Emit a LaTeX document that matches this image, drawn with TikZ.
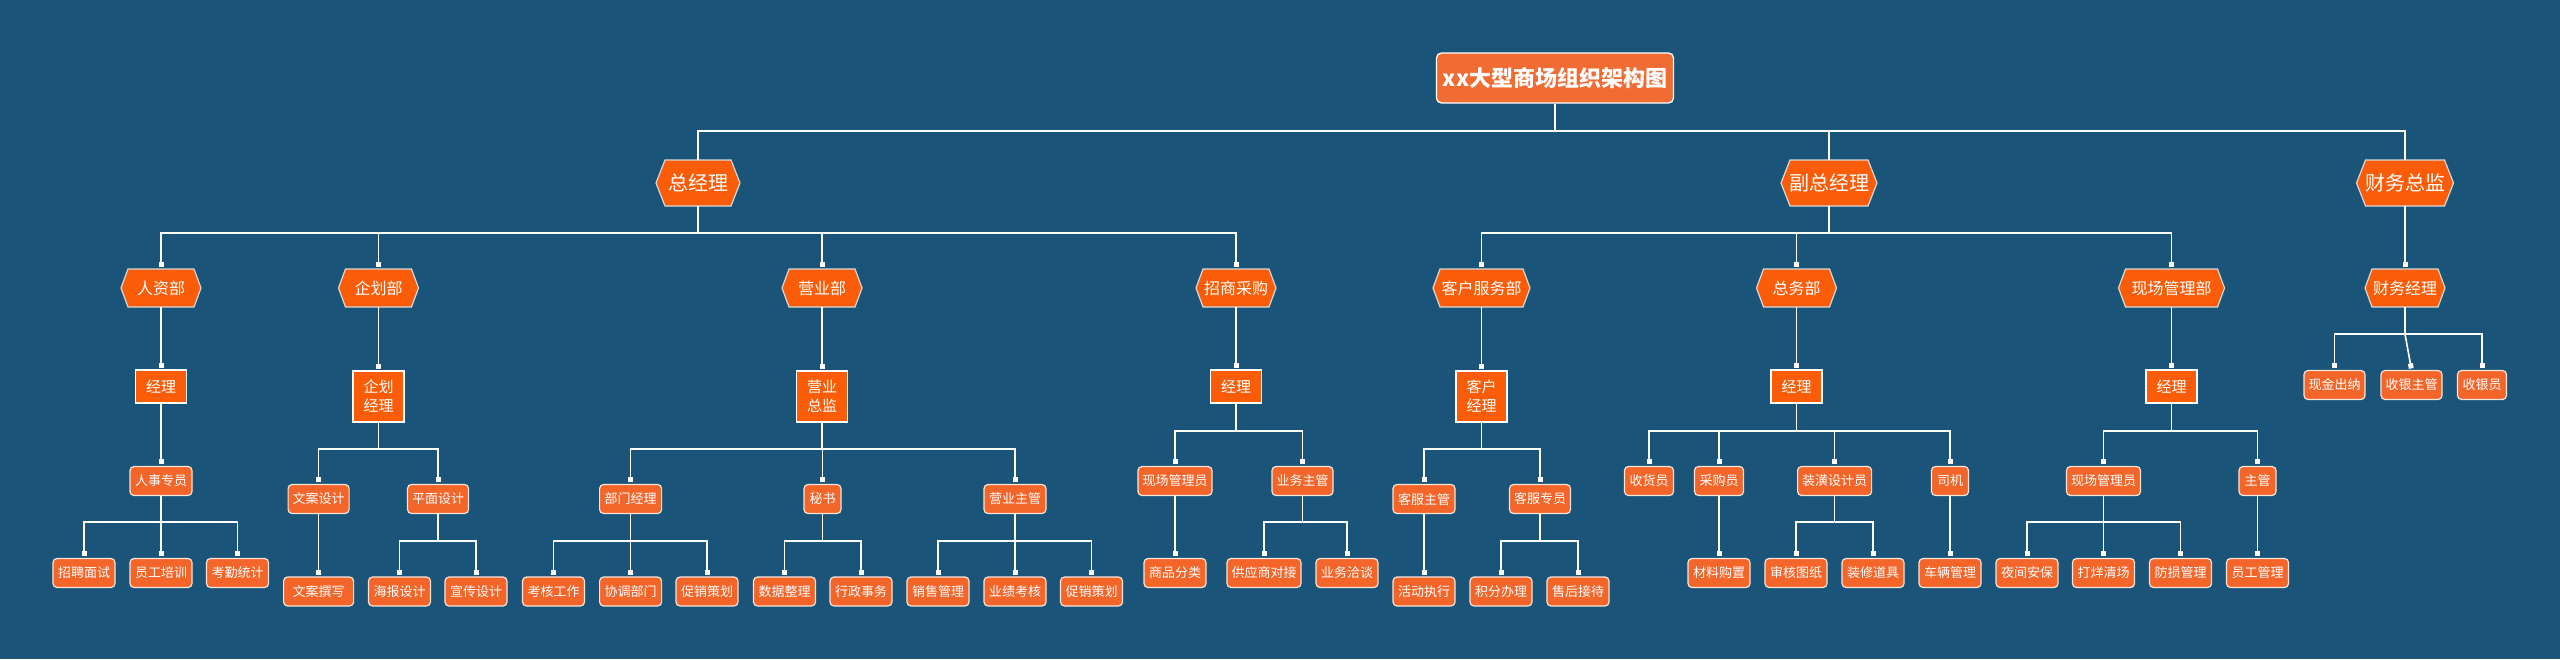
\documentclass[tikz,border=0pt]{standalone}
\usepackage{fontspec}
\newfontfamily\cjk{Noto Sans CJK SC}
\usetikzlibrary{arrows.meta}
\definecolor{bg}{HTML}{1B5479}
\definecolor{hexor}{HTML}{FA5C08}
\definecolor{boxor}{HTML}{F4652A}
\definecolor{titleor}{HTML}{F06C32}
\definecolor{boxedge}{HTML}{F6E6DA}
\newcommand\hexnode[8]{% name, x, y, w, h, inset, font style, text
  \filldraw[hexsty] ({#2-#4/2+#6},{#3-#5/2}) -- ({#2+#4/2-#6},{#3-#5/2}) -- ({#2+#4/2},#3)
    -- ({#2+#4/2-#6},{#3+#5/2}) -- ({#2-#4/2+#6},{#3+#5/2}) -- ({#2-#4/2},#3) -- cycle;
  \node[hexlabel,#7,minimum width=#4pt,minimum height=#5pt] (#1) at (#2,#3) {#8};}
\newcommand\branch[3]{\draw[conn,sqtip] (#1.south) |- (#2.north |- 0,#3) -- (#2.north);}
\newcommand\straight[2]{\draw[conn,sqtip] (#1.south) -- (#2.north);}
\begin{document}
\begin{tikzpicture}[x=1pt,y=-1pt,
  hexsty/.style={fill=hexor,draw=white!85!black,line width=1.2pt},
  hexlabel/.style={inner sep=0pt,text=white},
  lone/.style={font=\cjk\fontsize{20}{24}\selectfont},
  ltwo/.style={font=\cjk\fontsize{16}{20}\selectfont},
  mgr/.style={draw=white,line width=1.2pt,fill=hexor,inner sep=0pt,minimum width=51pt,
    text=white,align=center,font=\cjk\fontsize{15}{19}\selectfont},
  rbox/.style={draw=boxedge,line width=1.2pt,fill=boxor,rounded corners=4pt,inner sep=0pt,
    minimum height=29pt,minimum width=62pt,text=white,font=\cjk\fontsize{13}{15}\selectfont},
  titlebox/.style={draw=white,line width=1.3pt,fill=titleor,rounded corners=5pt,inner sep=0pt,
    minimum width=237pt,minimum height=50pt,text=white,font=\cjk\bfseries\fontsize{22}{26}\selectfont},
  conn/.style={draw=white,line width=1.6pt},
  trunk/.style={draw=white,line width=2.6pt},
  sqtip/.style={-{Square[length=5pt,width=5pt]},shorten >=1.5pt}]
\fill[bg] (0,0) rectangle (2560,659);
\useasboundingbox (0,0) rectangle (2560,659);

% title
\node[titlebox] (T) at (1555,78) {xx大型商场组织架构图};

% level 1
\hexnode{zjl}{698}{183}{84}{46}{9}{lone}{总经理}
\hexnode{fzjl}{1829}{183}{96}{46}{9}{lone}{副总经理}
\hexnode{cwzj}{2405}{183}{97}{46}{9}{lone}{财务总监}

% level 2
\hexnode{rz}{161}{288}{80}{38}{7}{ltwo}{人资部}
\hexnode{qh}{378.5}{288}{80}{38}{7}{ltwo}{企划部}
\hexnode{yy}{822}{288}{80}{38}{7}{ltwo}{营业部}
\hexnode{zs}{1236}{288}{80}{38}{7}{ltwo}{招商采购}
\hexnode{kf}{1481.5}{288}{97}{38}{7}{ltwo}{客户服务部}
\hexnode{zw}{1796.5}{288}{80}{38}{7}{ltwo}{总务部}
\hexnode{xc}{2171.5}{288}{106}{38}{7}{ltwo}{现场管理部}
\hexnode{cwjl}{2405}{288}{80}{38}{7}{ltwo}{财务经理}

% level 3
\node[mgr,minimum height=33pt] (m1) at (161,386.5) {经理};
\node[mgr,minimum height=51pt] (m2) at (378.5,396.5) {企划\\经理};
\node[mgr,minimum height=51pt] (m3) at (822,396.5) {营业\\总监};
\node[mgr,minimum height=33pt] (m4) at (1236,386.5) {经理};
\node[mgr,minimum height=51pt] (m5) at (1481.5,396.5) {客户\\经理};
\node[mgr,minimum height=33pt] (m6) at (1796.5,386.5) {经理};
\node[mgr,minimum height=33pt] (m7) at (2171.5,386.5) {经理};
\node[rbox,minimum width=61pt] (c1) at (2334.5,385) {现金出纳};
\node[rbox,minimum width=61pt] (c2) at (2411.5,385) {收银主管};
\node[rbox,minimum width=49pt] (c3) at (2482,385) {收银员};

% level 4
\node[rbox] (a1) at (161,481) {人事专员};
\node[rbox,minimum width=61pt] (b1) at (318.6,499) {文案设计};
\node[rbox,minimum width=61pt] (b2) at (438,499) {平面设计};
\node[rbox] (y1) at (630.6,499) {部门经理};
\node[rbox,minimum width=37pt] (y2) at (822.5,499) {秘书};
\node[rbox] (y3) at (1015,499) {营业主管};
\node[rbox,minimum width=74pt] (s1) at (1175,481) {现场管理员};
\node[rbox,minimum width=61pt] (s2) at (1302.5,481) {业务主管};
\node[rbox] (k1) at (1424,499) {客服主管};
\node[rbox,minimum width=61pt] (k2) at (1540,499) {客服专员};
\node[rbox,minimum width=49pt] (w1) at (1649,481) {收货员};
\node[rbox,minimum width=49pt] (w2) at (1719,481) {采购员};
\node[rbox,minimum width=74pt] (w3) at (1834.6,481) {装潢设计员};
\node[rbox,minimum width=37pt] (w4) at (1950,481) {司机};
\node[rbox,minimum width=74pt] (x1) at (2103.5,481) {现场管理员};
\node[rbox,minimum width=37pt] (x2) at (2257.5,481) {主管};

% level 5
\node[rbox] (a11) at (84,573) {招聘面试};
\node[rbox] (a12) at (161,573) {员工培训};
\node[rbox] (a13) at (237.5,573) {考勤统计};
\node[rbox,minimum width=70pt] (b11) at (318.6,591.5) {文案撰写};
\node[rbox] (b21) at (399.5,591.5) {海报设计};
\node[rbox] (b22) at (476,591.5) {宣传设计};
\node[rbox] (y11) at (553.5,591.5) {考核工作};
\node[rbox] (y12) at (630.6,591.5) {协调部门};
\node[rbox] (y13) at (707,591.5) {促销策划};
\node[rbox] (y21) at (784.5,591.5) {数据整理};
\node[rbox] (y22) at (861,591.5) {行政事务};
\node[rbox] (y31) at (938,591.5) {销售管理};
\node[rbox] (y32) at (1015,591.5) {业绩考核};
\node[rbox] (y33) at (1091.5,591.5) {促销策划};
\node[rbox] (s11) at (1175,573) {商品分类};
\node[rbox,minimum width=74pt] (s21) at (1264,573) {供应商对接};
\node[rbox] (s22) at (1347,573) {业务洽谈};
\node[rbox] (k11) at (1424,591.5) {活动执行};
\node[rbox] (k21) at (1501,591.5) {积分办理};
\node[rbox] (k22) at (1578,591.5) {售后接待};
\node[rbox] (w21) at (1719,573) {材料购置};
\node[rbox] (w31) at (1796,573) {审核图纸};
\node[rbox] (w32) at (1873,573) {装修道具};
\node[rbox] (w41) at (1950,573) {车辆管理};
\node[rbox] (x11) at (2027,573) {夜间安保};
\node[rbox] (x12) at (2103.5,573) {打烊清场};
\node[rbox] (x13) at (2180.5,573) {防损管理};
\node[rbox] (x21) at (2257.5,573) {员工管理};

% connectors: title
\foreach \c in {zjl,fzjl,cwzj}{\draw[trunk] (T.south) |- (\c.north |- 0,131) -- (\c.north);}
% level 2
\foreach \c in {rz,qh,yy,zs}{\branch{zjl}{\c}{233}}
\foreach \c in {kf,zw,xc}{\branch{fzjl}{\c}{233}}
\straight{cwzj}{cwjl}
% level 3
\straight{rz}{m1}\straight{qh}{m2}\straight{yy}{m3}\straight{zs}{m4}
\straight{kf}{m5}\straight{zw}{m6}\straight{xc}{m7}
\branch{cwjl}{c1}{334}\branch{cwjl}{c3}{334}
\draw[conn,sqtip] (cwjl.south) -- (cwjl.south |- 0,334) -- (c2.north);
% level 4
\straight{m1}{a1}
\foreach \c in {b1,b2}{\branch{m2}{\c}{449}}
\foreach \c in {y1,y2,y3}{\branch{m3}{\c}{449}}
\foreach \c in {s1,s2}{\branch{m4}{\c}{431}}
\foreach \c in {k1,k2}{\branch{m5}{\c}{449}}
\foreach \c in {w1,w2,w3,w4}{\branch{m6}{\c}{431}}
\foreach \c in {x1,x2}{\branch{m7}{\c}{431}}
% level 5
\foreach \c in {a11,a12,a13}{\branch{a1}{\c}{522}}
\straight{b1}{b11}
\foreach \c in {b21,b22}{\branch{b2}{\c}{541}}
\foreach \c in {y11,y12,y13}{\branch{y1}{\c}{541}}
\foreach \c in {y21,y22}{\branch{y2}{\c}{541}}
\foreach \c in {y31,y32,y33}{\branch{y3}{\c}{541}}
\straight{s1}{s11}
\foreach \c in {s21,s22}{\branch{s2}{\c}{522}}
\straight{k1}{k11}
\foreach \c in {k21,k22}{\branch{k2}{\c}{541}}
\straight{w2}{w21}
\foreach \c in {w31,w32}{\branch{w3}{\c}{522}}
\straight{w4}{w41}
\foreach \c in {x11,x12,x13}{\branch{x1}{\c}{522}}
\straight{x2}{x21}
\end{tikzpicture}
\end{document}
